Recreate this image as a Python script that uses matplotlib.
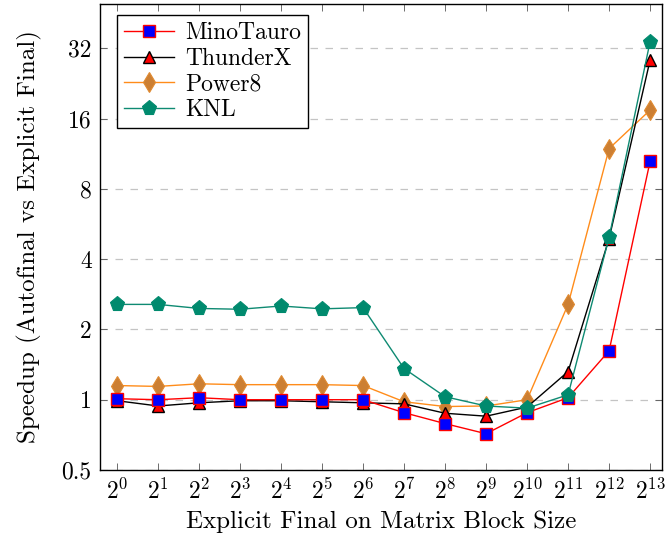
import matplotlib
matplotlib.use("Agg")
import matplotlib.pyplot as plt
import numpy as np

plt.rcParams['font.family'] = 'serif'
plt.rcParams['font.serif'] = ['cmr10']
plt.rcParams['mathtext.fontset'] = 'cm'
plt.rcParams['axes.formatter.use_mathtext'] = True

# block size exponents (2^0 .. 2^13)
exponents = list(range(14))

minotauro = [1.01, 1.00, 1.02, 1.00, 1.00, 1.00, 1.00, 0.88, 0.79, 0.715, 0.88, 1.02, 1.62, 10.5]
thunderx = [0.99, 0.94, 0.97, 0.99, 0.99, 0.98, 0.97, 0.96, 0.875, 0.85, 0.93, 1.32, 4.9, 28.5]
power8 = [1.15, 1.14, 1.17, 1.16, 1.16, 1.16, 1.15, 0.98, 0.935, 0.94, 1.00, 2.56, 11.9, 17.4]
knl = [2.56, 2.56, 2.46, 2.44, 2.52, 2.45, 2.48, 1.36, 1.03, 0.94, 0.92, 1.05, 4.96, 34.2]

ytick_vals = [0.5, 1, 2, 4, 8, 16, 32]
ytick_labels = ["0.5", "1", "2", "4", "8", "16", "32"]
xtick_labels = [r"$2^{%d}$" % e for e in exponents]

fig = plt.figure(figsize=(6.65, 5.42), dpi=100)
ax = fig.add_axes([100/665, 1 - 470/542, 562/665, 466/542])

x = [2.0**e for e in exponents]

ax.plot(x, minotauro, color="red", lw=1, marker="s", markersize=8,
        markerfacecolor="blue", markeredgecolor="red", markeredgewidth=1, label="MinoTauro", zorder=5)
ax.plot(x, thunderx, color="black", lw=1, marker="^", markersize=9,
        markerfacecolor="red", markeredgecolor="black", markeredgewidth=1, label="ThunderX", zorder=4)
ax.plot(x, power8, color="#ff8c1a", lw=1, marker="d", markersize=10,
        markerfacecolor="#cc7f33", markeredgecolor="#e08a30", markeredgewidth=0.8, label="Power8", zorder=3)
ax.plot(x, knl, color="#0e8a72", lw=1, marker="p", markersize=11,
        markerfacecolor="#008a6e", markeredgecolor="#008a6e", markeredgewidth=0.8, label="KNL", zorder=6)

ax.set_xscale("log", base=2)
ax.set_yscale("log", base=2)
ax.set_xlim(2**-0.415, 2**13.29)
ax.set_ylim(0.5, 2**5.63)

ax.set_xticks(x)
ax.set_xticklabels(xtick_labels)
ax.set_xticks([], minor=True)
ax.set_yticks(ytick_vals)
ax.set_yticklabels(ytick_labels)
ax.set_yticks([], minor=True)

ax.tick_params(which="both", direction="in", top=True, right=True, length=5,
               width=0.6, color="#555555", labelsize=17, pad=6)
ax.grid(axis="y", linestyle=(0, (6, 6)), color="#c4c4c4", lw=0.9)
ax.set_axisbelow(True)

for s in ax.spines.values():
    s.set_linewidth(1.0)

ax.set_xlabel("Explicit Final on Matrix Block Size", fontsize=18, labelpad=5)
ax.set_ylabel("Speedup (Autofinal vs Explicit Final)", fontsize=18, labelpad=14)

leg = ax.legend(loc="upper left", bbox_to_anchor=(0.03, 0.976), borderaxespad=0,
                fontsize=17, fancybox=False, edgecolor="black", framealpha=1,
                handlelength=2.1, borderpad=0.3, labelspacing=0.15, handletextpad=0.5)
leg.get_frame().set_linewidth(1.0)

fig.savefig("out.png", dpi=100)
